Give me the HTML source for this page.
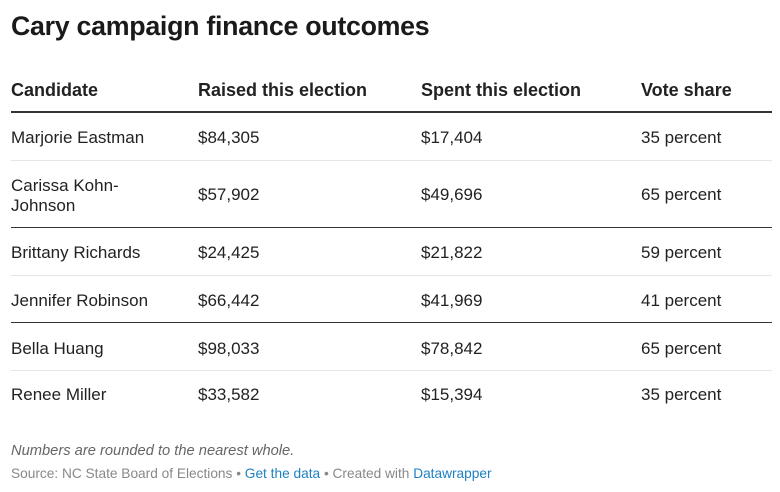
<!DOCTYPE html>
<html><head><meta charset="utf-8"><style>
body{margin:0;width:780px;height:492px;background:#fff;font-family:"Liberation Sans",Arial,sans-serif;color:#222;position:relative;overflow:hidden}
.a{position:absolute;white-space:nowrap}
h1{position:absolute;left:11px;top:11px;margin:0;font-size:26.8px;font-weight:bold;color:#1a1a1a;letter-spacing:-0.3px}
.h{font-weight:bold;font-size:18px;color:#222}
.c{font-size:17px;color:#222}
.ln{position:absolute;left:11px;width:761px}
</style></head><body>
<h1>Cary campaign finance outcomes</h1>
<div class="a h" style="left:11px;top:80px">Candidate</div>
<div class="a h" style="left:198px;top:80px">Raised this election</div>
<div class="a h" style="left:421px;top:80px">Spent this election</div>
<div class="a h" style="left:641px;top:80px">Vote share</div>
<div class="ln" style="top:111px;height:2px;background:#333"></div>

<div class="a c" style="left:11px;top:128px">Marjorie Eastman</div>
<div class="a c" style="left:198px;top:128px">$84,305</div>
<div class="a c" style="left:421px;top:128px">$17,404</div>
<div class="a c" style="left:641px;top:128px">35 percent</div>
<div class="ln" style="top:160px;height:1px;background:#e6e6e6"></div>

<div class="a c" style="left:11px;top:176px;line-height:20px">Carissa Kohn-<br>Johnson</div>
<div class="a c" style="left:198px;top:185px">$57,902</div>
<div class="a c" style="left:421px;top:185px">$49,696</div>
<div class="a c" style="left:641px;top:185px">65 percent</div>
<div class="ln" style="top:227px;height:1px;background:#333"></div>

<div class="a c" style="left:11px;top:243px">Brittany Richards</div>
<div class="a c" style="left:198px;top:243px">$24,425</div>
<div class="a c" style="left:421px;top:243px">$21,822</div>
<div class="a c" style="left:641px;top:243px">59 percent</div>
<div class="ln" style="top:275px;height:1px;background:#e6e6e6"></div>

<div class="a c" style="left:11px;top:291px">Jennifer Robinson</div>
<div class="a c" style="left:198px;top:291px">$66,442</div>
<div class="a c" style="left:421px;top:291px">$41,969</div>
<div class="a c" style="left:641px;top:291px">41 percent</div>
<div class="ln" style="top:322px;height:1px;background:#333"></div>

<div class="a c" style="left:11px;top:339px">Bella Huang</div>
<div class="a c" style="left:198px;top:339px">$98,033</div>
<div class="a c" style="left:421px;top:339px">$78,842</div>
<div class="a c" style="left:641px;top:339px">65 percent</div>
<div class="ln" style="top:370px;height:1px;background:#e6e6e6"></div>

<div class="a c" style="left:11px;top:385px">Renee Miller</div>
<div class="a c" style="left:198px;top:385px">$33,582</div>
<div class="a c" style="left:421px;top:385px">$15,394</div>
<div class="a c" style="left:641px;top:385px">35 percent</div>

<div class="a" style="left:11px;top:443px;font-size:14.7px;font-style:italic;color:#666">Numbers are rounded to the nearest whole.</div>
<div class="a" style="left:11px;top:466px;font-size:13.7px;color:#888">Source: NC State Board of Elections • <span style="color:#1d81c4">Get the data</span> • Created with <span style="color:#1d81c4">Datawrapper</span></div>
</body></html>
